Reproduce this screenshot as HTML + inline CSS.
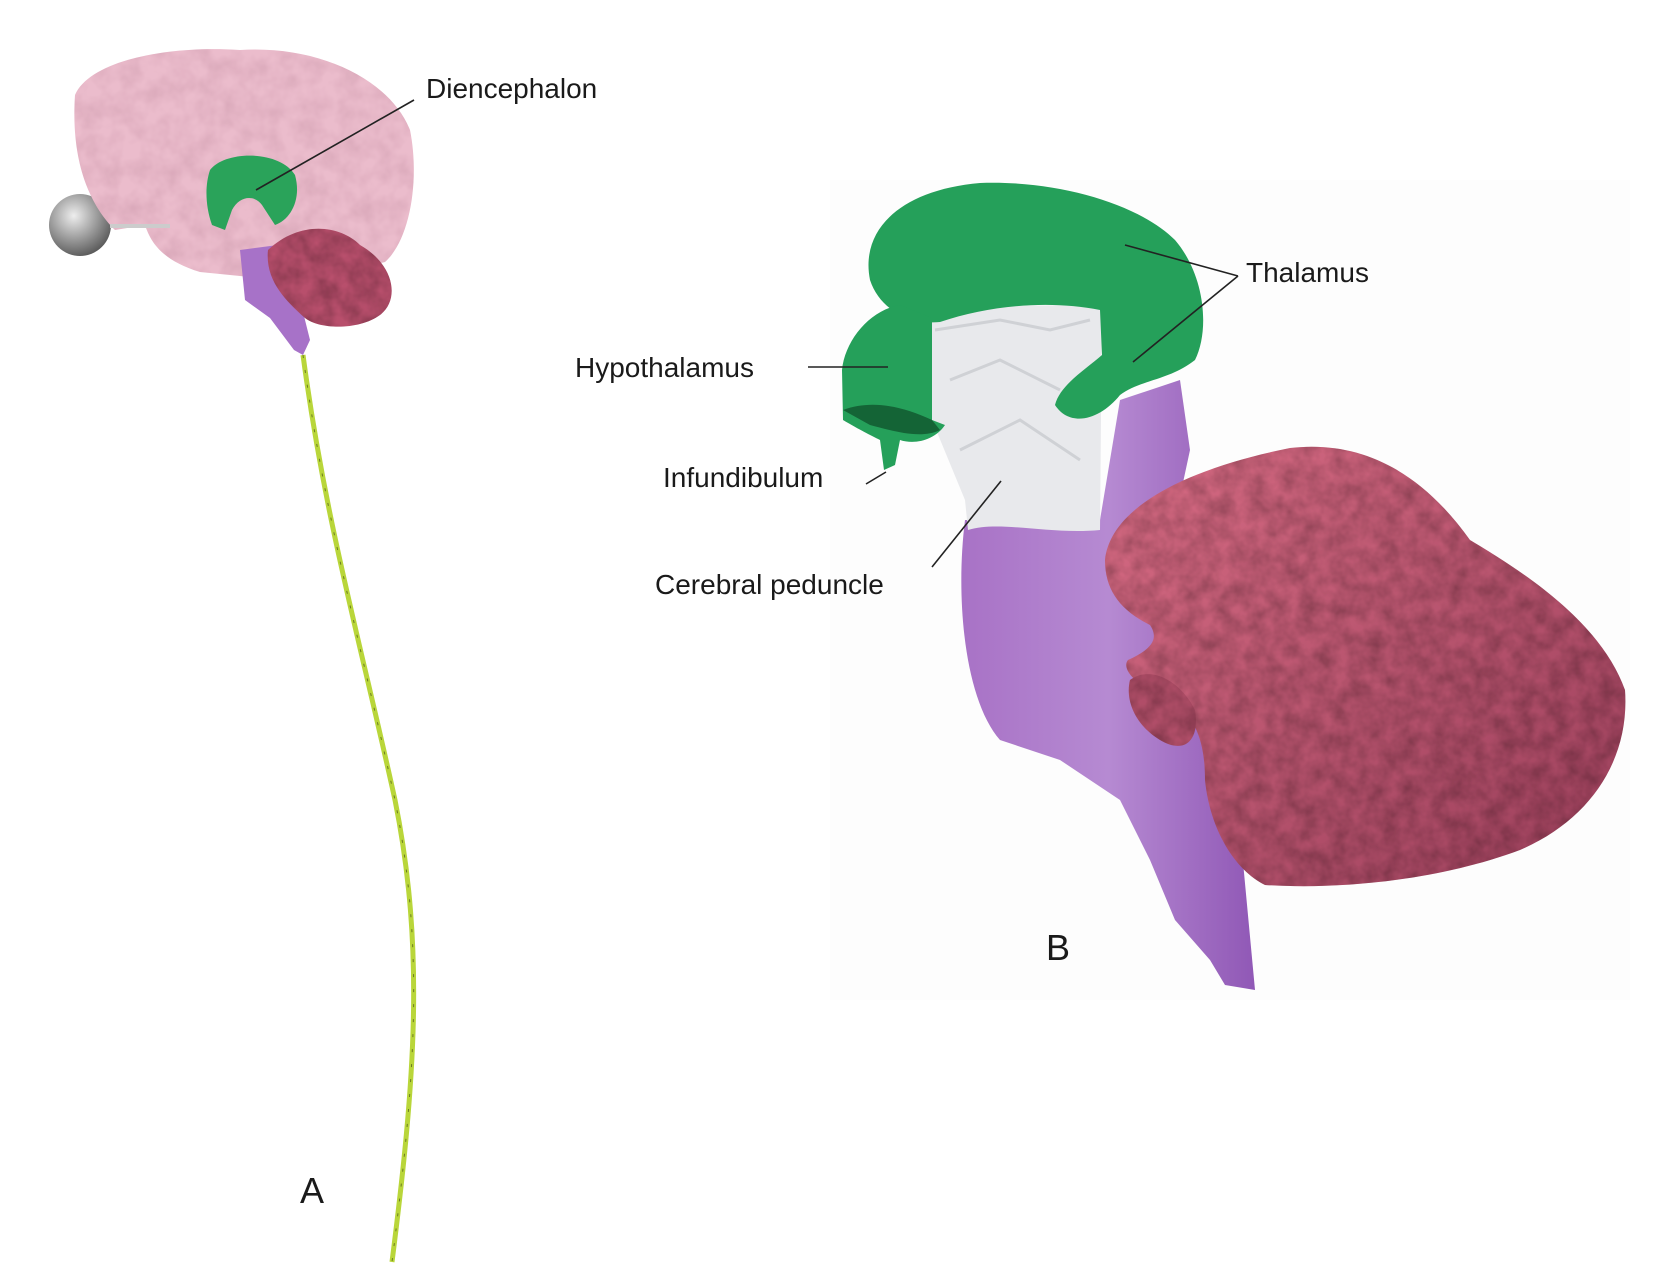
<!DOCTYPE html>
<html><head><meta charset="utf-8"><style>
html,body{margin:0;padding:0;background:#fff}
svg{display:block}
text{font-family:"Liberation Sans",sans-serif;fill:#1a1a1a}
</style></head><body>
<svg width="1670" height="1287" viewBox="0 0 1670 1287" xmlns="http://www.w3.org/2000/svg">
<defs>
<filter id="tex" x="0" y="0" width="100%" height="100%">
<feTurbulence type="fractalNoise" baseFrequency="0.06" numOctaves="3" seed="3"/>
<feColorMatrix type="matrix" values="0 0 0 0 0  0 0 0 0 0  0 0 0 0 0  0 0 0 -0.7 0.55"/>
<feComposite in2="SourceGraphic" operator="in" result="n"/>
<feBlend in="SourceGraphic" in2="n" mode="multiply"/>
</filter>
<filter id="tex2" x="0" y="0" width="100%" height="100%">
<feTurbulence type="fractalNoise" baseFrequency="0.05" numOctaves="3" seed="7"/>
<feColorMatrix type="matrix" values="0 0 0 0 0.5  0 0 0 0 0.3  0 0 0 0 0.4  0 0 0 -0.5 0.35"/>
<feComposite in2="SourceGraphic" operator="in" result="n"/>
<feBlend in="SourceGraphic" in2="n" mode="multiply"/>
</filter>
<radialGradient id="ball" cx="0.4" cy="0.35" r="0.7"><stop offset="0" stop-color="#eee"/><stop offset="1" stop-color="#555"/></radialGradient>
<linearGradient id="purp" x1="0" y1="0" x2="1" y2="0"><stop offset="0" stop-color="#a872c6"/><stop offset="0.5" stop-color="#b68ad2"/><stop offset="1" stop-color="#9058b6"/></linearGradient>
<linearGradient id="cer" x1="0" y1="0" x2="1" y2="1"><stop offset="0" stop-color="#d86c84"/><stop offset="1" stop-color="#9a3e5a"/></linearGradient>
</defs>

<!-- Panel A -->
<circle cx="80" cy="225" r="31" fill="url(#ball)"/>
<path d="M75 95 C90 60 170 45 240 50 C320 45 390 80 410 130 C420 180 410 240 385 262 L300 282 L200 272 C160 260 150 240 145 225 L115 230 C95 210 70 170 75 95Z" fill="#ebbccc" filter="url(#tex2)"/>
<rect x="110" y="224" width="60" height="4" fill="#ccc"/>
<path d="M210 170 C225 150 280 150 295 175 C302 200 290 220 275 225 L262 205 C255 195 240 195 232 210 L225 230 L212 225 C205 205 205 185 210 170Z" fill="#2aa35a"/>
<path d="M240 250 L278 245 L300 300 L310 340 L303 355 L294 350 L270 318 L245 300Z" fill="#a772c8"/>
<path d="M268 250 C300 220 340 225 360 245 C395 265 400 300 380 315 C360 330 320 330 305 318 C285 300 265 280 268 250Z" fill="#b84f6c" filter="url(#tex)"/>
<path d="M303 355 C325 520 360 640 395 800 C425 950 415 1080 392 1262" fill="none" stroke="#b9d63a" stroke-width="5"/>
<path d="M303 355 C325 520 360 640 395 800 C425 950 415 1080 392 1262" fill="none" stroke="#6a7a20" stroke-width="1" stroke-dasharray="3 12"/>
<line x1="256" y1="190" x2="414" y2="100" stroke="#222" stroke-width="1.6"/>
<text x="426" y="98" font-size="28">Diencephalon</text>
<text x="300" y="1203" font-size="36">A</text>

<!-- Panel B -->
<rect x="830" y="180" width="800" height="820" fill="#fdfdfd"/>
<path d="M965 520 L1100 520 L1120 400 L1180 380 L1190 450 L1175 520 L1200 540 L1210 700 L1240 830 L1255 990 L1225 985 L1210 960 L1175 920 L1150 860 L1120 800 L1060 760 L1000 740 C965 700 955 600 965 520Z" fill="url(#purp)"/>
<path d="M932 318 C980 300 1050 308 1102 304 L1100 530 C1050 535 1000 520 968 530 L965 500 L932 420Z" fill="#e8e9ec"/>
<path d="M935 330 L1000 320 L1050 330 L1090 320 M950 380 L1000 360 L1060 390 M960 450 L1020 420 L1080 460" fill="none" stroke="#cfd1d5" stroke-width="3"/>
<path d="M870 280 C860 230 900 190 980 183 C1060 180 1140 205 1175 240 C1205 275 1210 330 1195 360 C1170 380 1140 380 1120 395 C1100 420 1070 428 1055 405 C1060 385 1085 370 1102 355 L1100 310 C1050 300 990 305 940 322 C910 325 880 310 870 280Z" fill="#25a05a"/>
<path d="M932 318 L900 305 C870 310 845 340 842 370 L843 420 C860 430 870 435 880 440 L884 470 L895 465 L900 440 C915 445 935 440 945 425 L932 420Z" fill="#25a05a"/>
<path d="M843 410 C870 400 900 405 932 420 L940 430 C920 440 890 430 870 425Z" fill="#0d4a26" opacity="0.7"/>
<path d="M1105 560 C1110 510 1180 470 1290 448 C1360 440 1420 470 1470 540 C1520 570 1600 620 1625 690 C1630 760 1590 820 1520 850 C1440 880 1340 890 1265 885 C1235 870 1210 830 1205 780 C1205 740 1195 720 1175 700 C1140 690 1120 670 1128 660 C1150 650 1160 640 1150 625 C1120 610 1105 590 1105 560Z" fill="url(#cer)" filter="url(#tex)"/>
<path d="M1130 680 C1150 665 1180 680 1195 710 C1200 740 1185 755 1160 740 C1135 725 1125 700 1130 680Z" fill="#b04e68" filter="url(#tex)"/>
<line x1="1125" y1="245" x2="1238" y2="276" stroke="#222" stroke-width="1.6"/>
<line x1="1133" y1="362" x2="1238" y2="276" stroke="#222" stroke-width="1.6"/>
<line x1="808" y1="367" x2="888" y2="367" stroke="#222" stroke-width="1.6"/>
<line x1="866" y1="484" x2="886" y2="472" stroke="#222" stroke-width="1.6"/>
<line x1="932" y1="567" x2="1001" y2="481" stroke="#222" stroke-width="1.6"/>
<text x="1246" y="282" font-size="28">Thalamus</text>
<text x="575" y="377" font-size="28">Hypothalamus</text>
<text x="663" y="487" font-size="28">Infundibulum</text>
<text x="655" y="594" font-size="28">Cerebral peduncle</text>
<text x="1046" y="960" font-size="36">B</text>
</svg>
</body></html>
